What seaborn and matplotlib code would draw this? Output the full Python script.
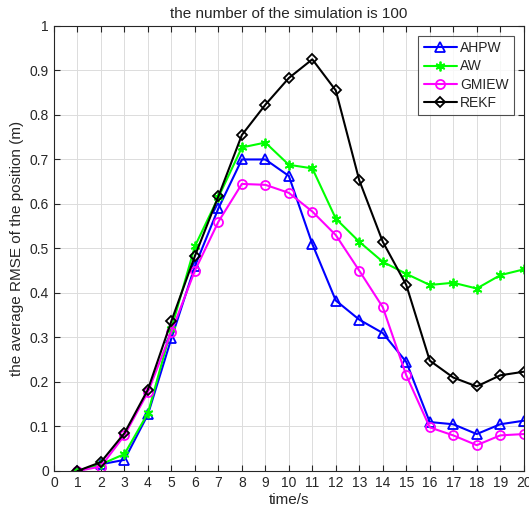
import numpy as np
import pandas as pd
import matplotlib
matplotlib.use('Agg')
import matplotlib.pyplot as plt
import seaborn as sns

# values
time_s = list(range(1, 21))
ahpw = [0.0, 0.015, 0.025, 0.127, 0.298, 0.46, 0.59, 0.70, 0.70, 0.663,
        0.51, 0.383, 0.34, 0.31, 0.245, 0.11, 0.105, 0.083, 0.105, 0.113]
aw = [0.0, 0.015, 0.038, 0.13, 0.32, 0.505, 0.615, 0.727, 0.738, 0.688,
      0.68, 0.567, 0.515, 0.47, 0.443, 0.418, 0.423, 0.41, 0.44, 0.453]
gmiew = [0.0, 0.01, 0.08, 0.177, 0.313, 0.45, 0.56, 0.645, 0.643, 0.625,
         0.583, 0.53, 0.45, 0.368, 0.215, 0.098, 0.08, 0.058, 0.08, 0.083]
rekf = [0.0, 0.02, 0.085, 0.183, 0.337, 0.483, 0.617, 0.755, 0.823, 0.883,
        0.925, 0.855, 0.653, 0.515, 0.418, 0.248, 0.21, 0.19, 0.215, 0.223]

sns.set_style('white')
plt.rcParams['font.family'] = ['Liberation Sans', 'DejaVu Sans']

df = pd.DataFrame({'time': time_s * 4,
                   'rmse': ahpw + aw + gmiew + rekf,
                   'method': ['AHPW'] * 20 + ['AW'] * 20 + ['GMIEW'] * 20 + ['REKF'] * 20})

styles = {
    'AHPW': ('#0000ff', '^', 6.5),
    'AW': ('#00ff00', (6, 2, 0), 7),
    'GMIEW': ('#ff00ff', 'o', 6.5),
    'REKF': ('#000000', 'D', 5),
}

fig = plt.figure(figsize=(5.29, 5.19), dpi=100)
ax = fig.add_axes([0.102, 0.0925, 0.888, 0.8575])

for name, (col, mk, ms) in styles.items():
    sub = df[df['method'] == name]
    sns.lineplot(data=sub, x='time', y='rmse', ax=ax, color=col, marker=mk,
                 markersize=ms, markerfacecolor='none', markeredgecolor=col,
                 markeredgewidth=1.3, linewidth=1.5, label=name)

ax.set_xlim(0, 20)
ax.set_ylim(0, 1)
ax.set_xticks(range(0, 21))
ax.set_yticks(np.arange(0, 1.01, 0.1))
ax.set_yticklabels(['0', '0.1', '0.2', '0.3', '0.4', '0.5', '0.6', '0.7', '0.8', '0.9', '1'])
ax.grid(True, color='#dcdcdc', linewidth=0.7)
ax.set_axisbelow(True)
ax.tick_params(direction='in', length=4, labelsize=10, top=True, right=True,
               bottom=True, left=True, color='#262626')
for s in ax.spines.values():
    s.set_color('#262626')
    s.set_linewidth(0.8)

ax.set_xlabel('time/s', fontsize=11, labelpad=2)
ax.set_ylabel('the average RMSE of the position (m)', fontsize=11, labelpad=4)
ax.set_title('the number of the simulation is 100', fontsize=11, pad=6)

leg = ax.legend(loc='upper right', fontsize=10, frameon=True, fancybox=False,
                edgecolor='#262626', handlelength=2.4, borderpad=0.4,
                labelspacing=0.3, handletextpad=0.2, borderaxespad=0.7)
leg.get_frame().set_linewidth(0.8)

fig.savefig('out.png', dpi=100)
